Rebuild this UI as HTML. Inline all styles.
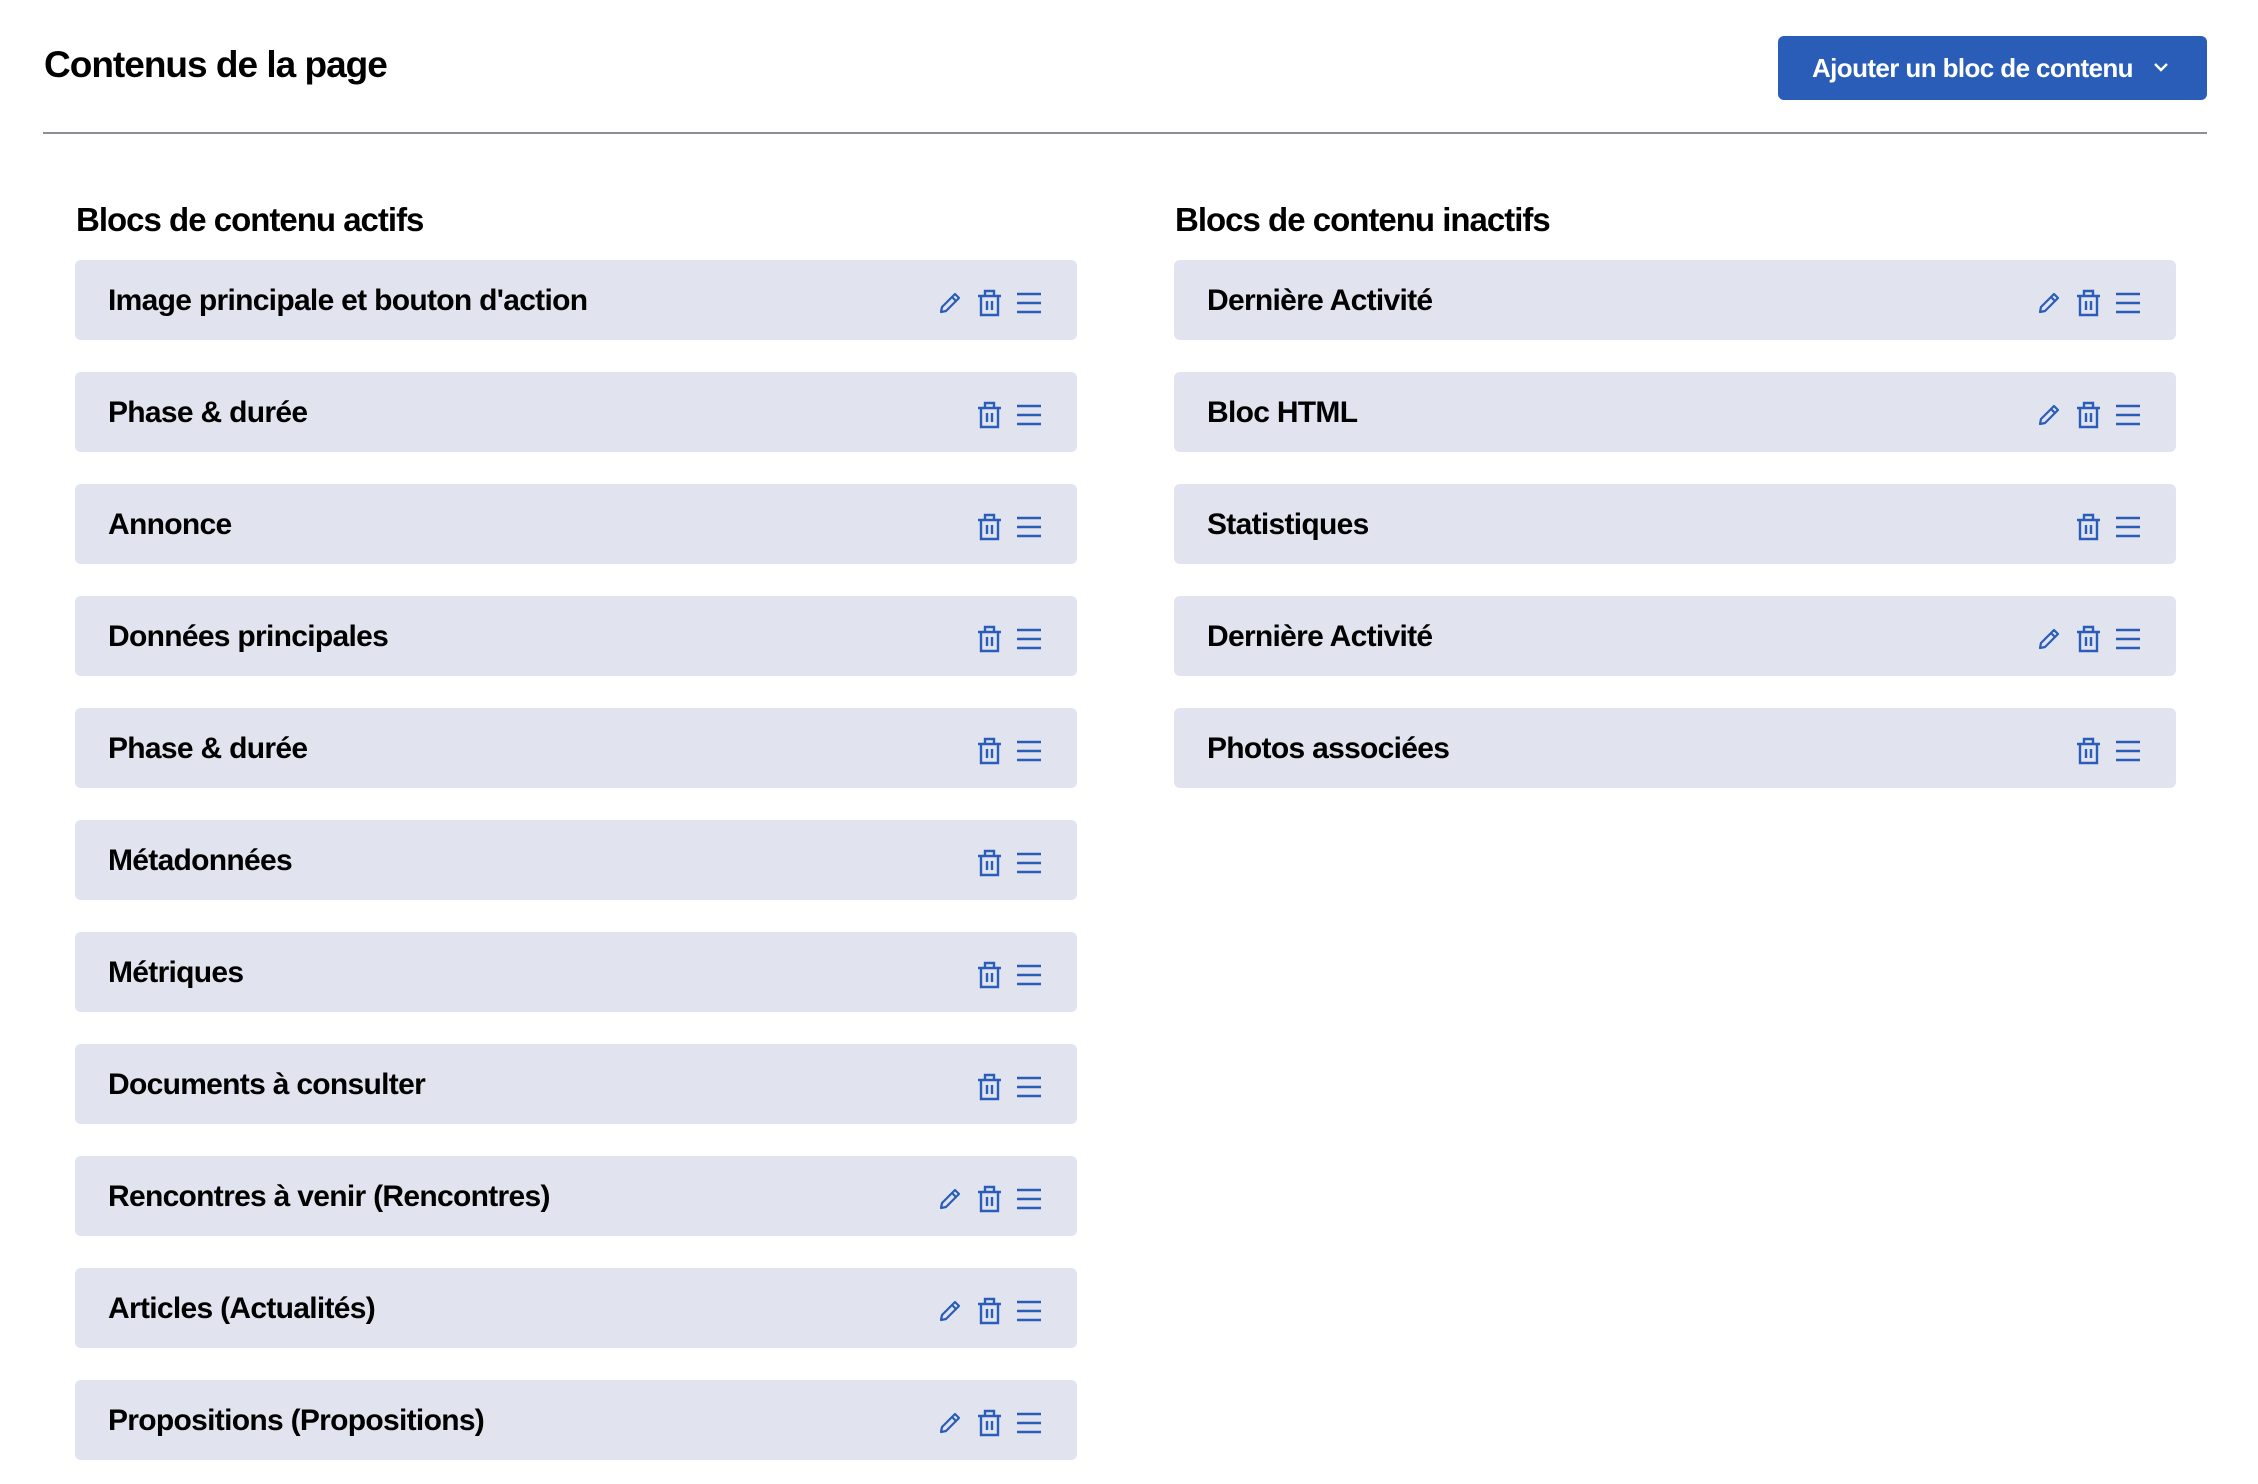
<!DOCTYPE html>
<html><head><meta charset="utf-8"><style>
*{margin:0;padding:0;box-sizing:border-box}
body{width:2258px;height:1484px;background:#fff;position:relative;font-family:"Liberation Sans",sans-serif;color:#000;overflow:hidden}
.t{position:absolute;left:44px;top:44px;font-size:37px;font-weight:bold;letter-spacing:-1px}
.btn{position:absolute;left:1778px;top:36px;width:429px;height:64px;background:#2a5db8;border-radius:6px;color:#fff;font-weight:bold;font-size:26px;letter-spacing:-0.6px;line-height:64px;padding-left:34px}
.btn svg{position:absolute;left:375px;top:26px}
.hr{position:absolute;left:43px;top:132px;width:2164px;height:2px;background:#8c8f99}
.h{position:absolute;font-size:33px;font-weight:bold;letter-spacing:-1px;top:201px}
.row{position:absolute;height:80px;width:1002px;background:#e1e4ee;border-radius:6px}
.row span{position:absolute;left:33px;top:1px;line-height:80px;font-size:30px;font-weight:bold;letter-spacing:-0.7px}
.ic{position:absolute;top:29px;right:35px;display:flex;gap:13px;align-items:center}
</style></head><body>
<div class="t">Contenus de la page</div>
<div class="btn">Ajouter un bloc de contenu<svg width="16" height="10" viewBox="0 0 16 10"><path d="M2 2 L8 8 L14 2" stroke="#fff" stroke-width="2.4" fill="none"/></svg></div>
<div class="hr"></div>
<div class="h" style="left:76px">Blocs de contenu actifs</div>
<div class="h" style="left:1175px">Blocs de contenu inactifs</div>
<div id="c"></div>
<script>
var P='<svg width="26" height="26" viewBox="0 0 26 26"><path d="M4 22 L5 17 L18 4 L22 8 L9 21 Z M15 7 L19 11" stroke="#2a5db8" stroke-width="2.2" fill="none" stroke-linejoin="round"/></svg>';
var T='<svg width="27" height="28" viewBox="0 0 27 28"><path d="M2 7 H25 M9 7 V2 H18 V7 M5 7 V26 H22 V7 M11 12 V21 M16 12 V21" stroke="#2a5db8" stroke-width="2.4" fill="none"/></svg>';
var M='<svg width="26" height="24" viewBox="0 0 26 24"><path d="M1 3 H25 M1 12 H25 M1 21 H25" stroke="#2a5db8" stroke-width="2.4"/></svg>';
var L=[["Image principale et bouton d'action",1],["Phase &amp; durée",0],["Annonce",0],["Données principales",0],["Phase &amp; durée",0],["Métadonnées",0],["Métriques",0],["Documents à consulter",0],["Rencontres à venir (Rencontres)",1],["Articles (Actualités)",1],["Propositions (Propositions)",1]];
var R=[["Dernière Activité",1],["Bloc HTML",1],["Statistiques",0],["Dernière Activité",1],["Photos associées",0]];
var h='';
function add(a,x){a.forEach(function(r,i){h+='<div class="row" style="left:'+x+'px;top:'+(260+112*i)+'px"><span>'+r[0]+'</span><div class="ic">'+(r[1]?P:'')+T+M+'</div></div>';});}
add(L,75);add(R,1174);
document.getElementById('c').innerHTML=h;
</script>
</body></html>
